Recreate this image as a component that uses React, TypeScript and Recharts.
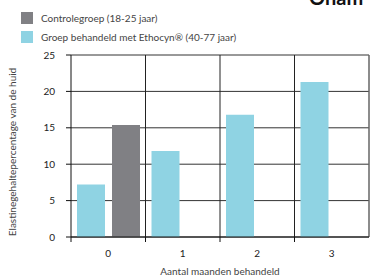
import { BarChart, Bar, XAxis, YAxis, CartesianGrid, ReferenceLine, Label } from 'recharts'

const months = ['0', '1', '2', '3']
const behandeld = [7.2, 11.8, 16.8, 21.3]
const controle: (number | null)[] = [15.4, null, null, null]
const yTicks = [0, 5, 10, 15, 20, 25]

const legendItems = [
  { label: 'Controlegroep (18-25 jaar)', color: '#808084' },
  { label: 'Groep behandeld met Ethocyn® (40-77 jaar)', color: '#8fd3e3' },
]

const W = 371
const H = 278
const LEFT = 71
const RIGHT = 2
const BAND = (W - LEFT - RIGHT) / months.length

const font = 'Lato, "Noto Sans", sans-serif'

const chartData = months.map((m, i) => ({
  month: m,
  behandeld: behandeld[i],
  controle: controle[i],
}))

function MonthTick(props: any) {
  const { x, y, payload } = props
  const left = x - BAND / 2
  return (
    <g>
      <line x1={left} x2={left} y1={y - 8} y2={y - 3} stroke="#111" strokeWidth={1} />
      <text x={x} y={y + 12} textAnchor="middle" fontSize={10} fill="#222" fontFamily={font}>
        {payload.value}
      </text>
    </g>
  )
}

export default function App() {
  return (
    <div style={{ position: 'absolute', left: 0, top: 0, width: W, height: H, overflow: 'hidden', background: '#fff' }}>
      <div
        style={{
          position: 'absolute',
          left: 309,
          top: -13,
          fontSize: 20,
          lineHeight: '20px',
          fontWeight: 700,
          fontFamily: font,
          color: '#111',
          whiteSpace: 'nowrap',
        }}
      >
        Onam
      </div>

      <div style={{ position: 'absolute', left: 21, top: 8, fontFamily: font, fontSize: 10, color: '#444' }}>
        {legendItems.map((item) => (
          <div key={item.label} style={{ display: 'flex', alignItems: 'center', height: 19 }}>
            <span style={{ width: 12, height: 12, background: item.color, display: 'inline-block', marginRight: 8 }} />
            <span>{item.label}</span>
          </div>
        ))}
      </div>

      <div style={{ position: 'absolute', left: 0, top: 0 }}>
        <BarChart
          width={W}
          height={H}
          data={chartData}
          margin={{ top: 55, right: RIGHT, left: 0, bottom: 0 }}
          barSize={28}
          barGap={7}
        >
          <CartesianGrid vertical={false} stroke="#333" strokeWidth={1} />
          <XAxis
            dataKey="month"
            height={41}
            tickLine={false}
            axisLine={{ stroke: '#111' }}
            tick={<MonthTick />}
            interval={0}
          >
            <Label
              value="Aantal maanden behandeld"
              position="insideBottom"
              offset={3}
              fontSize={10}
              fill="#444"
              fontFamily={font}
            />
          </XAxis>
          <YAxis
            width={LEFT}
            domain={[0, 25]}
            ticks={yTicks}
            interval={0}
            tickSize={5}
            tickMargin={11}
            tickLine={{ stroke: '#111' }}
            axisLine={{ stroke: '#111' }}
            tick={{ fontSize: 10, fill: '#222', fontFamily: font }}
          >
            <Label
              value="Elastinegehaltepercentage van de huid"
              angle={-90}
              position="insideLeft"
              offset={12}
              dy={6}
              fontSize={10}
              fill="#444"
              fontFamily={font}
              style={{ textAnchor: 'middle' }}
            />
          </YAxis>
          {months.slice(1).map((m) => (
            <ReferenceLine key={m} x={m} position="start" stroke="#222" strokeWidth={1} />
          ))}
          <ReferenceLine x={months[months.length - 1]} position="end" stroke="#666" strokeWidth={1.5} />
          <Bar dataKey="behandeld" fill="#8fd3e3" isAnimationActive={false} />
          <Bar dataKey="controle" fill="#808084" isAnimationActive={false} />
        </BarChart>
      </div>
    </div>
  )
}
